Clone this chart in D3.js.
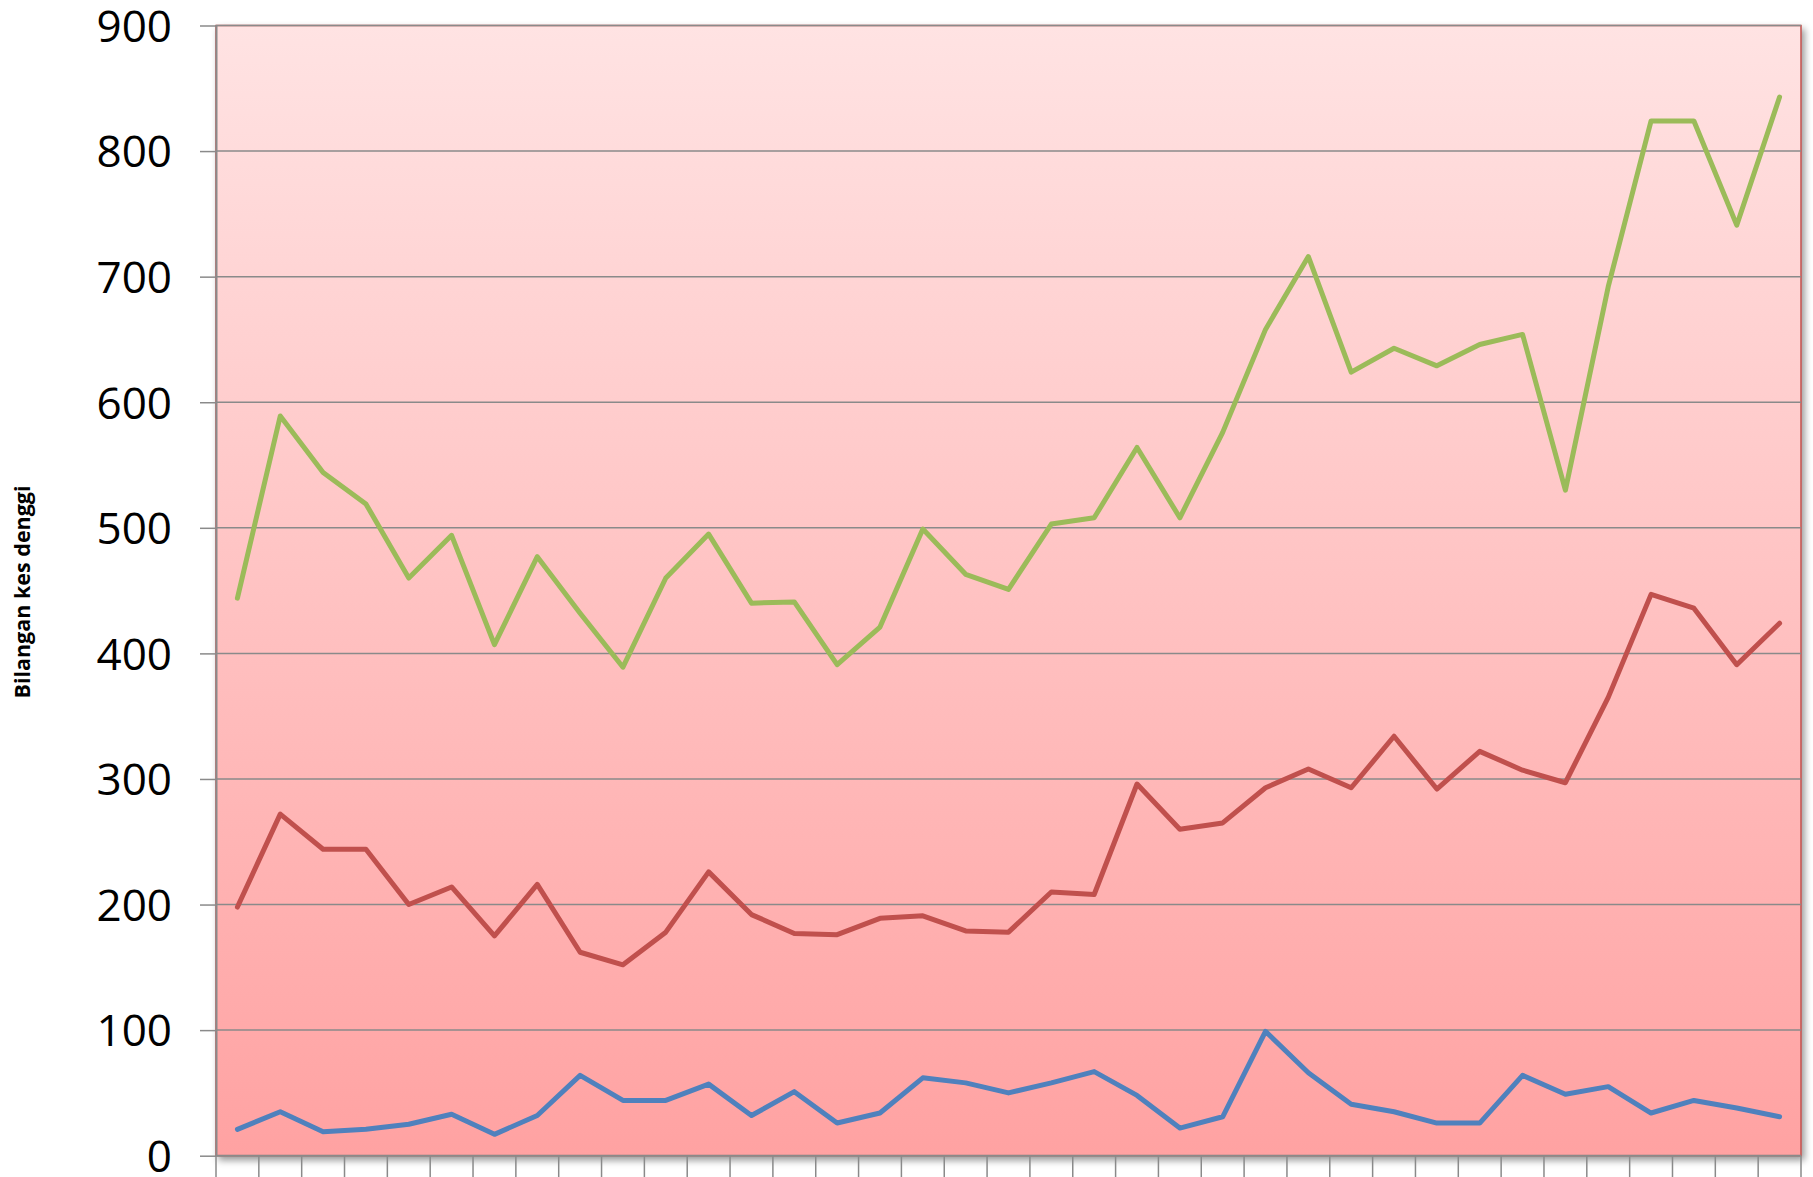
<!DOCTYPE html>
<html>
<head>
<meta charset="utf-8">
<script src="https://cdn.jsdelivr.net/npm/d3@7"></script>
<style>
  html, body { margin: 0; padding: 0; background: #ffffff; }
  svg { display: block; }
</style>
</head>
<body>
<svg id="chart" width="1813" height="1177"></svg>
<script>
// ---- data ----
const weeks = d3.range(1, 38).map(String);

const seriesBlue = [21, 35, 19, 21, 25, 33, 17, 32, 64, 44, 44, 57, 32, 51, 26, 34, 62, 58,
  50, 58, 67, 48, 22, 31, 99, 66, 41, 35, 26, 26, 64, 49, 55, 34, 44, 38, 31];

const seriesRed = [198, 272, 244, 244, 200, 214, 175, 216, 162, 152, 178, 226, 192, 177, 176, 189, 191, 179,
  178, 210, 208, 296, 260, 265, 293, 308, 293, 334, 292, 322, 307, 297, 365, 447, 436, 391, 424];

const seriesGreen = [444, 589, 544, 519, 460, 494, 407, 477, 432, 389, 460, 495, 440, 441, 391, 421, 499, 463,
  451, 503, 508, 564, 508, 576, 658, 716, 624, 643, 629, 646, 654, 530, 692, 824, 824, 741, 843];

const yTicks = [0, 100, 200, 300, 400, 500, 600, 700, 800, 900];
const yTitle = "Bilangan kes denggi";

const series = [
  { name: "blue", values: seriesBlue, color: "#4F81BD" },
  { name: "red", values: seriesRed, color: "#C0504D" },
  { name: "green", values: seriesGreen, color: "#9BBB59" }
];

// ---- layout ----
const plot = { left: 216, top: 25.5, right: 1801, bottom: 1155.7 };

const svg = d3.select("#chart");
const defs = svg.append("defs");

const grad = defs.append("linearGradient")
  .attr("id", "bg").attr("x1", 0).attr("y1", 0).attr("x2", 0).attr("y2", 1);
grad.append("stop").attr("offset", "0%").attr("stop-color", "#FFE3E3");
grad.append("stop").attr("offset", "100%").attr("stop-color", "#FFA2A2");

const shadow = defs.append("filter").attr("id", "shadow")
  .attr("x", "-5%").attr("y", "-5%").attr("width", "110%").attr("height", "110%");
shadow.append("feDropShadow").attr("dx", 3).attr("dy", 4).attr("stdDeviation", 3.5)
  .attr("flood-color", "#000").attr("flood-opacity", 0.4);

const x = d3.scaleBand().domain(weeks).range([plot.left, plot.right]).padding(0);
const y = d3.scaleLinear().domain([0, 900]).range([plot.bottom, plot.top]);
const cx = d => x(d) + x.bandwidth() / 2;

// plot area
svg.append("rect")
  .attr("x", plot.left).attr("y", plot.top)
  .attr("width", plot.right - plot.left).attr("height", plot.bottom - plot.top)
  .attr("fill", "url(#bg)")
  .attr("stroke", "#C0504D").attr("stroke-width", 1.5)
  .attr("filter", "url(#shadow)");

// gridlines
svg.append("g").selectAll("line")
  .data(yTicks.filter(t => t > 0))
  .join("line")
  .attr("x1", plot.left).attr("x2", plot.right)
  .attr("y1", d => y(d)).attr("y2", d => y(d))
  .attr("stroke", "#8A8A8A").attr("stroke-width", 1.5);

// y axis
const yAxis = svg.append("g")
  .attr("transform", `translate(${plot.left},0)`)
  .call(d3.axisLeft(y).tickValues(yTicks).tickSize(16).tickPadding(28).tickSizeOuter(0));
yAxis.select(".domain").attr("stroke", "#8A8A8A").attr("stroke-width", 2);
yAxis.selectAll(".tick line").attr("stroke", "#8A8A8A").attr("stroke-width", 1.5);
yAxis.selectAll(".tick text")
  .attr("font-family", "'Open Sans', sans-serif")
  .attr("font-size", 44).attr("fill", "#000").attr("dy", "0.36em");

// x axis (category boundary ticks, labels fall below the visible area)
const boundaries = weeks.map(w => x(w)).concat([plot.right]);
svg.append("g").selectAll("line")
  .data(boundaries)
  .join("line")
  .attr("x1", d => d).attr("x2", d => d)
  .attr("y1", plot.bottom).attr("y2", plot.bottom + 30)
  .attr("stroke", "#8A8A8A").attr("stroke-width", 1.5);
svg.append("line")
  .attr("x1", plot.left).attr("x2", plot.right)
  .attr("y1", plot.bottom).attr("y2", plot.bottom)
  .attr("stroke", "#8A8A8A").attr("stroke-width", 2);

// y title
svg.append("text")
  .attr("transform", "translate(30,592) rotate(-90)")
  .attr("text-anchor", "middle")
  .attr("font-family", "'Open Sans', sans-serif")
  .attr("font-weight", "bold")
  .attr("font-size", 21.5)
  .attr("fill", "#000")
  .text(yTitle);

// lines
const line = d3.line().x((d, i) => cx(weeks[i])).y(d => y(d));
svg.append("g").selectAll("path")
  .data(series)
  .join("path")
  .attr("d", s => line(s.values))
  .attr("fill", "none")
  .attr("stroke", s => s.color)
  .attr("stroke-width", 5)
  .attr("stroke-linejoin", "round")
  .attr("stroke-linecap", "round");
</script>
</body>
</html>
